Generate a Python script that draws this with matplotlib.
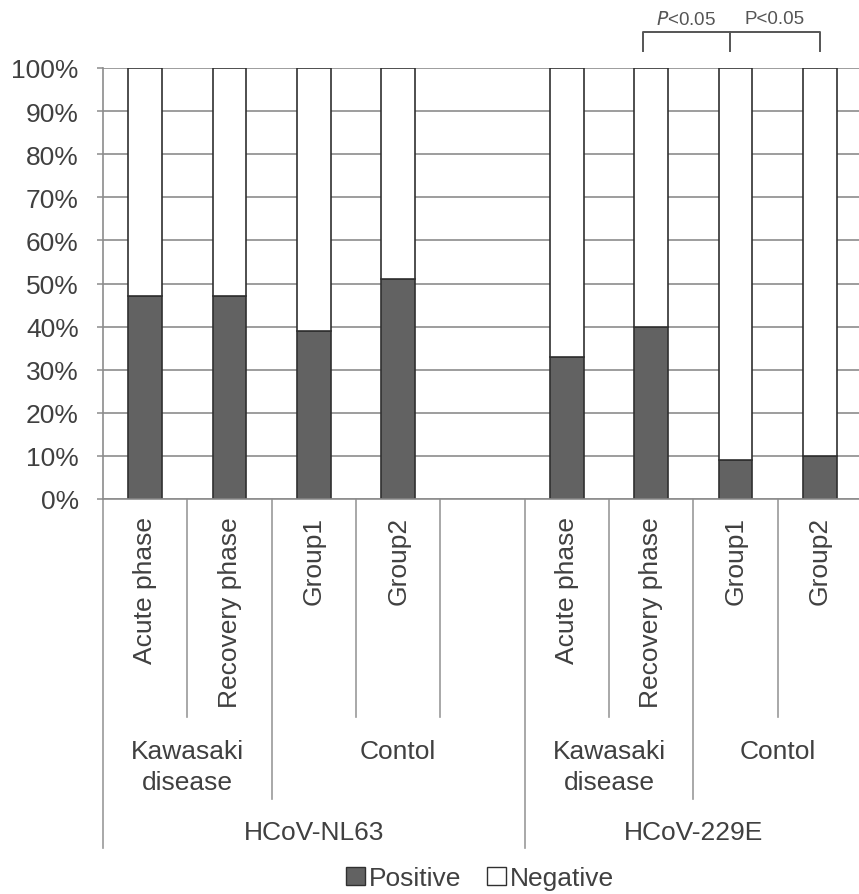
import matplotlib
matplotlib.use("Agg")
import matplotlib.pyplot as plt
from matplotlib.patches import Patch
from matplotlib.lines import Line2D
from matplotlib.transforms import blended_transform_factory
import numpy as np

plt.rcParams['font.family'] = ['Liberation Sans', 'DejaVu Sans']

# ---- data -------------------------------------------------------------
phases = ["Acute phase", "Recovery phase", "Group1", "Group2"]
viruses = ["HCoV-NL63", "HCoV-229E"]
groups = ["Kawasaki\ndisease", "Contol"]
positive_nl63 = [47, 47, 39, 51]
positive_229e = [33, 40, 9, 10]
yticks = [0, 10, 20, 30, 40, 50, 60, 70, 80, 90, 100]
p_labels = ["P<0.05", "P<0.05"]

# ---- layout -----------------------------------------------------------
W, H = 859, 895
fig = plt.figure(figsize=(W / 100, H / 100), dpi=100)
ax = fig.add_axes([103 / W, 1 - 500 / H, (862 - 103) / W, (500 - 69) / H])

def fy(px):
    """figure-fraction y from a pixel row"""
    return 1 - px / H

TXT = "#404040"
GRID = "#8c8c8c"
FS = 19

# slot positions: four bars, an empty slot, four bars
x_nl63 = np.arange(4)
x_229e = np.arange(5, 9)
pos = np.array(positive_nl63 + positive_229e)
neg = 100 - pos
xs = np.concatenate([x_nl63, x_229e])

width = 0.4
ax.bar(xs, pos, width, color="#626262", edgecolor="#303030", linewidth=1.2, zorder=3)
ax.bar(xs, neg, width, bottom=pos, color="white", edgecolor="#303030", linewidth=1.2, zorder=3)

ax.set_xlim(-0.5, 8.5)
ax.set_ylim(0, 100)
ax.set_yticks(yticks)
ax.set_yticklabels([f"{t}%" for t in yticks], fontsize=FS, color=TXT)
ax.tick_params(axis="y", length=4.5, width=1.1, color=GRID, pad=13)
ax.set_xticks([])
ax.yaxis.grid(True, color=GRID, linewidth=1.2, zorder=0)
for s in ["top", "right"]:
    ax.spines[s].set_visible(False)
ax.spines["left"].set_color(GRID)
ax.spines["left"].set_linewidth(1.2)
ax.spines["bottom"].set_color(GRID)
ax.spines["bottom"].set_linewidth(1.2)
ax.spines["bottom"].set_zorder(4)

# ---- hierarchical category axis -----------------------------------------
tr = blended_transform_factory(ax.transData, fig.transFigure)

def vline(x, y_bottom_px):
    ax.add_line(Line2D([x, x], [fy(500), fy(y_bottom_px)], transform=tr,
                       color="#9a9a9a", linewidth=1.2, clip_on=False))

# boundaries between slots
for b in [0.5, 2.5, 3.5, 5.5, 7.5]:
    vline(b, 718)
for b in [1.5, 6.5]:
    vline(b, 800)
for b in [-0.5, 4.5, 8.5]:
    vline(b, 849)

for x, lab in zip(xs, phases + phases):
    ax.text(x, fy(517), lab, rotation=90, ha="center", va="top",
            fontsize=FS, color=TXT, transform=tr)

# second level: disease group / control
group_spans = [(0, 1, groups[0]), (2, 4, groups[1]), (5, 6, groups[0]), (7, 8, groups[1])]
for a, b, lab in group_spans:
    ax.text((a + b) / 2, fy(740), lab, ha="center", va="top", fontsize=FS,
            color=TXT, transform=tr, linespacing=1.38)

# third level: virus
for a, b, lab in [(0, 4, viruses[0]), (5, 8, viruses[1])]:
    ax.text((a + b) / 2, fy(833), lab, ha="center", va="center",
            fontsize=FS, color=TXT, transform=tr)

# ---- significance brackets ---------------------------------------------
yb, yt = fy(52), fy(33)
xl, xm, xr = 6 - 0.1, 7 - 0.07, 8
ax.add_line(Line2D([xl, xl, xr, xr], [yb, yt, yt, yb], transform=tr,
                   color="#555555", linewidth=1.4, clip_on=False))
ax.add_line(Line2D([xm, xm], [yt, yb], transform=tr,
                   color="#555555", linewidth=1.4, clip_on=False))
ax.text((xl + xm) / 2, fy(20), r"$\mathit{P}$<0.05", ha="center", va="center",
        fontsize=13.5, color="#555555", transform=tr)
ax.text((xm + xr) / 2, fy(20), p_labels[1], ha="center", va="center",
        fontsize=13.5, color="#555555", transform=tr)

# ---- legend -----------------------------------------------------------
handles = [Patch(facecolor="#626262", edgecolor="#303030", linewidth=1.0),
           Patch(facecolor="white", edgecolor="#303030", linewidth=1.0)]
fig.legend(handles, ["Positive", "Negative"], loc="center",
           bbox_to_anchor=(480 / W, fy(879)), ncol=2, frameon=False,
           fontsize=FS, handlelength=0.7, handleheight=0.7, handletextpad=0.15,
           columnspacing=1.0, labelcolor=TXT)

fig.savefig("out.png", dpi=100)
